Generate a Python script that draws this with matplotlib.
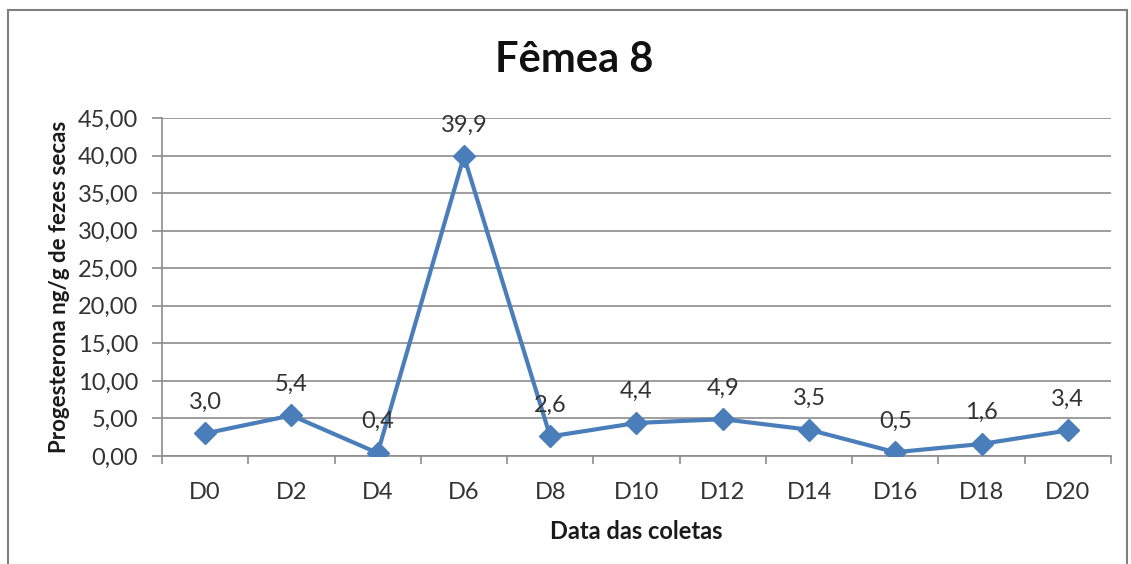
import matplotlib
matplotlib.use("Agg")
import matplotlib.pyplot as plt
from matplotlib.patches import Rectangle

plt.rcParams['font.family'] = ['Lato', 'DejaVu Sans']

# progesterona fecal por coleta
coletas = ["D0", "D2", "D4", "D6", "D8", "D10", "D12", "D14", "D16", "D18", "D20"]
progesterona = [3.0, 5.4, 0.4, 39.9, 2.6, 4.4, 4.9, 3.5, 0.5, 1.6, 3.4]
yticks = [0, 5, 10, 15, 20, 25, 30, 35, 40, 45]

azul = "#4a7ebb"
grade = "#8c8c8c"
texto = "#333333"

fig = plt.figure(figsize=(11.31, 5.64), dpi=100)
ax = fig.add_axes([0.1432, 0.1915, 0.9823 - 0.1432, 0.7908 - 0.1915])

# moldura do gráfico
fig.patches.append(Rectangle((8 / 1131, -0.1), (1127 - 8) / 1131, 1.1 - 10 / 564,
                             transform=fig.transFigure, fill=False,
                             edgecolor="#7f7f7f", linewidth=1.5))

x = list(range(len(coletas)))
ax.plot(x, progesterona, color=azul, linewidth=3, marker="D",
        markersize=11, markerfacecolor=azul, markeredgecolor=azul, zorder=3)

for xi, v in zip(x, progesterona):
    ax.annotate(f"{v:.1f}".replace(".", ","), (xi, v), textcoords="offset points",
                xytext=(0, 15), ha="center", va="bottom", fontsize=17,
                color=texto, zorder=4)

ax.set_xlim(-0.5, len(coletas) - 0.5)
ax.set_ylim(0, 45)
ax.set_yticks(yticks)
ax.set_yticklabels([f"{t:.2f}".replace(".", ",") for t in yticks])
ax.set_xticks(x)
ax.set_xticklabels(coletas)
ax.set_xticks([i - 0.5 for i in range(len(coletas) + 1)], minor=True)

ax.yaxis.grid(True, color=grade, linewidth=1.2)
ax.set_axisbelow(True)
for s in ["top", "right"]:
    ax.spines[s].set_visible(False)
for s in ["left", "bottom"]:
    ax.spines[s].set_color(grade)
    ax.spines[s].set_linewidth(1.2)

ax.tick_params(axis="y", which="major", length=7, width=1.2, color=grade,
               labelsize=17, labelcolor=texto, pad=10)
ax.tick_params(axis="x", which="major", length=0, labelsize=17,
               labelcolor=texto, pad=19)
ax.tick_params(axis="x", which="minor", length=6, width=1.2, color=grade)

ax.set_ylabel("Progesterona ng/g de fezes secas", fontsize=16, fontweight="bold",
              color="#1a1a1a", labelpad=6)
ax.set_xlabel("Data das coletas", fontsize=17, fontweight="bold",
              color="#1a1a1a", labelpad=12)
fig.text(0.508, 0.894, "Fêmea 8", ha="center", va="center", fontsize=30,
         fontweight="bold", color="#111111")

fig.savefig("out.png", dpi=100)
